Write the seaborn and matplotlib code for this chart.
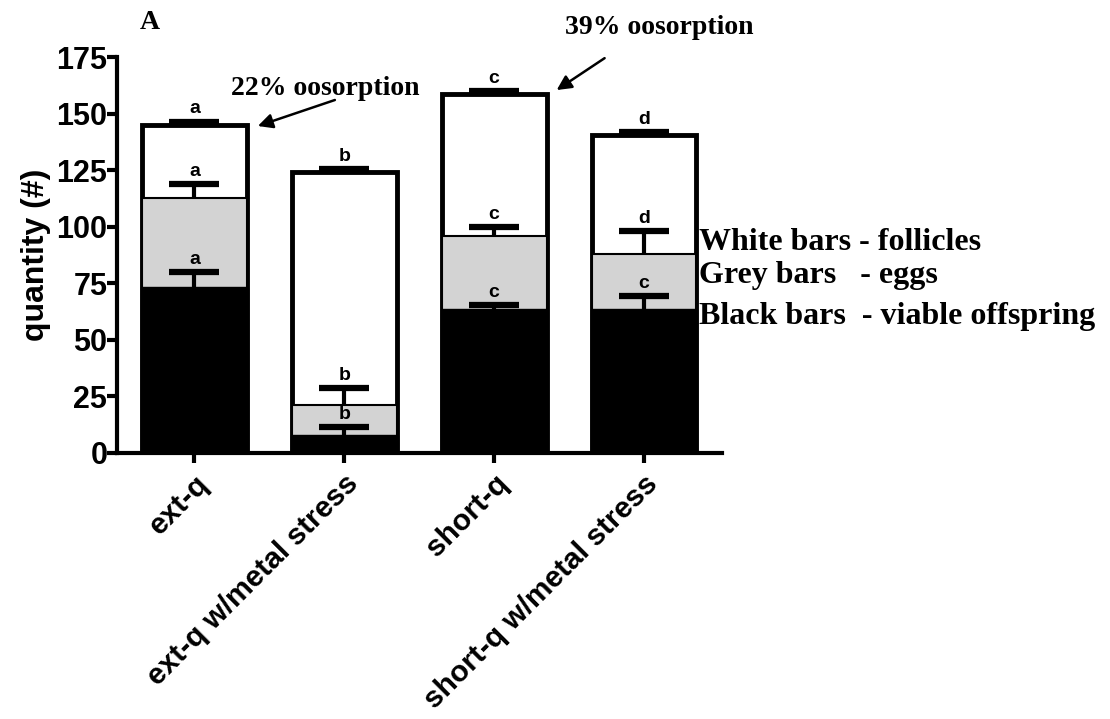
import matplotlib
matplotlib.use("Agg")
import matplotlib.pyplot as plt
import seaborn as sns
import numpy as np
import pandas as pd

# ---- data ----
categories = ["ext-q", "ext-q w/metal stress", "short-q", "short-q w/metal stress"]
offspring = [73.5, 8, 63.5, 63.5]            # black bars (viable offspring)
offspring_err = [6.5, 3.5, 2, 6]
eggs_cum = [112.5, 21, 96, 88]               # top of grey bars (eggs, stacked)
eggs_err = [6.5, 7.5, 4, 10]
follicles_cum = [145, 124, 158.5, 140.5]     # top of white bars (follicles, stacked)
follicles_err = [1.5, 1.5, 1.5, 1.5]
letters_off = ["a", "b", "c", "c"]
letters_eggs = ["a", "b", "c", "d"]
letters_fol = ["a", "b", "c", "d"]
yticks = [0, 25, 50, 75, 100, 125, 150, 175]

sns.set_style("ticks")
plt.rcParams["font.family"] = ["Liberation Sans", "DejaVu Sans"]
for k in ["text.color", "axes.labelcolor", "xtick.color", "ytick.color", "axes.edgecolor"]:
    plt.rcParams[k] = "black"

fig = plt.figure(figsize=(11.1, 7.19), dpi=100)
ax = fig.add_axes([0.1054, 0.370, 0.5450, 0.5507])

df = pd.DataFrame({"cat": categories, "fol": follicles_cum, "egg": eggs_cum, "off": offspring})

sns.barplot(data=df, x="cat", y="fol", color="white", edgecolor="black",
            linewidth=3.5, width=0.7, saturation=1, ax=ax, zorder=2)
sns.barplot(data=df, x="cat", y="egg", color="#d3d3d3", edgecolor="black",
            linewidth=1.5, width=0.7, saturation=1, ax=ax, zorder=3)
sns.barplot(data=df, x="cat", y="off", color="black", edgecolor="black",
            linewidth=1, width=0.71, saturation=1, ax=ax, zorder=4)

xs = np.arange(len(categories))
cap_half = 0.167
for tops, errs, labs in [(follicles_cum, follicles_err, letters_fol),
                         (eggs_cum, eggs_err, letters_eggs),
                         (offspring, offspring_err, letters_off)]:
    tops = np.array(tops, dtype=float)
    errs = np.array(errs, dtype=float)
    ax.vlines(xs, tops, tops + errs, color="black", linewidth=3, zorder=6)
    ax.hlines(tops + errs, xs - cap_half, xs + cap_half, color="black",
              linewidth=4.5, zorder=6)
    for x, t, e, l in zip(xs, tops, errs, labs):
        ax.annotate(l, (x, t + e), xytext=(0, 3), textcoords="offset points",
                    ha="center", va="bottom", fontsize=14, fontweight="bold", zorder=7)

ax.set_xlim(-0.517, 3.52)
ax.set_ylim(0, 175)
ax.set_yticks(yticks)
ax.set_yticklabels([str(v) for v in yticks], fontsize=22, fontweight="bold")
ax.set_xticks(xs)
ax.set_xticklabels(categories, fontsize=21.5, fontweight="bold", rotation=45,
                   ha="right", rotation_mode="anchor")
ax.set_xlabel("")
ax.set_ylabel("quantity (#)", fontsize=23, fontweight="bold", labelpad=4)
sns.despine(ax=ax)
for s in ["left", "bottom"]:
    ax.spines[s].set_linewidth(3)
ax.tick_params(axis="y", width=3, length=7, pad=0)
ax.tick_params(axis="x", width=3, length=7, pad=5)

serif = ["Liberation Serif", "DejaVu Serif"]
ax.text(0.87, 161, "22% oosorption", ha="center", va="center", fontsize=20,
        fontweight="bold", family=serif, clip_on=False)
ax.annotate("", xy=(0.423, 144.5), xytext=(0.937, 156), annotation_clip=False,
            arrowprops=dict(arrowstyle="-|>", color="black", lw=1.8,
                            mutation_scale=22, shrinkA=0, shrinkB=0))
ax.text(3.1, 188, "39% oosorption", ha="center", va="center", fontsize=20,
        fontweight="bold", family=serif, clip_on=False)
ax.annotate("", xy=(2.417, 160.4), xytext=(2.737, 174.5), annotation_clip=False,
            arrowprops=dict(arrowstyle="-|>", color="black", lw=1.8,
                            mutation_scale=22, shrinkA=0, shrinkB=0))

fig.text(0.126, 0.969, "A", fontsize=20, fontweight="bold", family=serif,
         ha="left", va="center")
legend_lines = ["White bars - follicles", "Grey bars   - eggs", "Black bars  - viable offspring"]
for t, ypx in zip(legend_lines, [242, 276, 316]):
    fig.text(0.630, 1 - ypx / 719, t, fontsize=23, fontweight="bold", family=serif,
             ha="left", va="center")

fig.savefig("out.png", dpi=100)
